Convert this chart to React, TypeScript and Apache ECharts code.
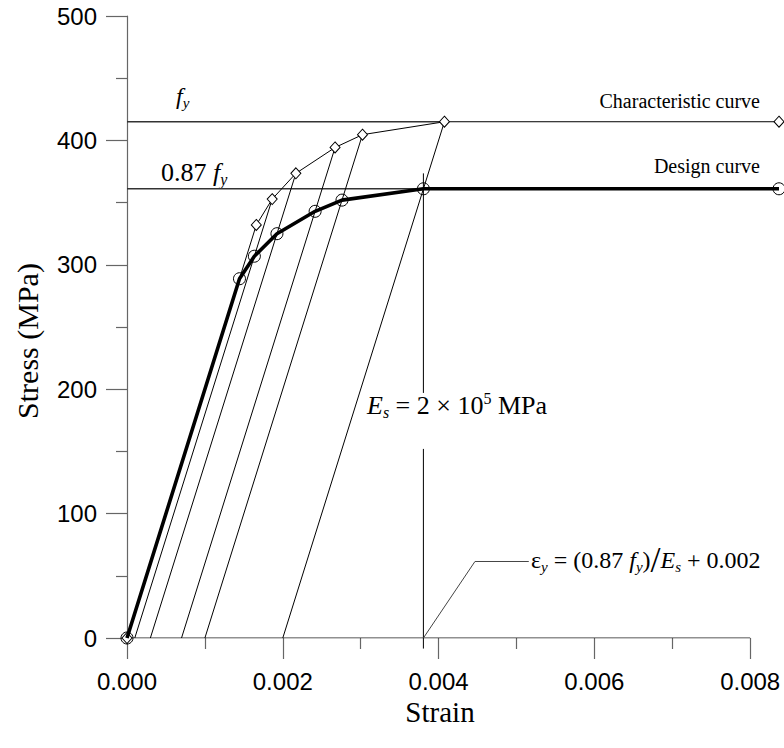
import React, { useEffect, useRef } from "react";
import * as echarts from "echarts";

// Characteristic curve (fy = 415 MPa)
const charStrain = [0, 0.00166, 0.001864, 0.002168, 0.002671, 0.003023, 0.004075, 0.00837];
const charStress = [0, 332, 352.8, 373.5, 394.3, 404.6, 415, 415];
// Design curve (0.87 fy)
const designStrain = [0, 0.001444, 0.001635, 0.001925, 0.002415, 0.00276, 0.003805, 0.00837];
const designStress = [0, 288.8, 306.9, 325.0, 343.0, 352.0, 361.1, 361.1];
// inelastic strain offsets of the Es-slope construction lines
const offsetStrain = [0.0001, 0.0003, 0.0007, 0.001, 0.002];
const fy = 415;
const fyd = 361.1;
const epsY = 0.003805;
// vertical line at eps_y (upper and lower segments around the E_s label)
const vTop = [373.5, 197];
const vBottom = [152, -8.5];
// leader line for the eps_y annotation
const leaderStrain = [0.003805, 0.004467, 0.005158];
const leaderStress = [0, 61.5, 61.5];
// axis ticks
const xMajorTicks = [0, 0.002, 0.004, 0.006, 0.008];
const xMinorTicks = [0.001, 0.003, 0.005, 0.007];
const xAxisEnd = 0.008;
const xGridEnd = 0.00837;

const serif = "'Liberation Serif', 'Times New Roman', serif";
const sans = "'Liberation Sans', Arial, sans-serif";

function richStyles(main: number) {
  return {
    n: { fontFamily: serif, fontSize: main, lineHeight: main + 4, color: "#000" },
    i: { fontFamily: serif, fontSize: main, fontStyle: "italic", lineHeight: main + 4, color: "#000" },
    sub: { fontFamily: serif, fontSize: Math.round(main * 0.62), fontStyle: "italic", lineHeight: 12, verticalAlign: "bottom", color: "#000" },
    sup: { fontFamily: serif, fontSize: Math.round(main * 0.62), lineHeight: 12, verticalAlign: "top", color: "#000" },
    slash: { fontFamily: serif, fontSize: main + 12, lineHeight: main + 4, color: "#000" },
  };
}

export default function App() {
  const ref = useRef<HTMLDivElement>(null);
  useEffect(() => {
    const chart = echarts.init(ref.current!, null, { renderer: "svg" });
    const thin = { color: "#000", width: 1 };
    const offsetSeries = offsetStrain.map((o, k) => ({
      type: "line",
      silent: true,
      symbol: "none",
      lineStyle: thin,
      data: [
        [o, 0],
        [charStrain[k + 2], charStress[k + 2]],
      ],
      z: 2,
    }));
    const tickStyle = { color: "#666", width: 1.2 };
    const option: any = {
      animation: false,
      backgroundColor: "#fff",
      grid: { left: 127, right: 5, top: 16, bottom: 110, containLabel: false },
      xAxis: [
        {
          type: "value",
          position: "bottom",
          min: 0,
          max: xGridEnd,
          axisLine: { show: false },
          axisTick: { show: true, length: 21, lineStyle: tickStyle, customValues: xMajorTicks },
          splitLine: { show: false },
          axisLabel: {
            margin: 31,
            fontFamily: sans,
            fontSize: 24,
            color: "#000",
            customValues: xMajorTicks,
            formatter: (v: number) => v.toFixed(3),
          },
        },
        {
          type: "value",
          position: "bottom",
          min: 0,
          max: xGridEnd,
          axisLine: { show: false, onZero: false },
          axisTick: { show: true, length: 11, lineStyle: tickStyle, customValues: xMinorTicks },
          axisLabel: { show: false },
          splitLine: { show: false },
        },
      ],
      yAxis: {
        type: "value",
        min: 0,
        max: 500,
        interval: 100,
        axisLine: { show: true, onZero: false, lineStyle: { color: "#666", width: 1.2 } },
        axisTick: { show: true, length: 21, lineStyle: tickStyle },
        minorTick: { show: true, splitNumber: 2, length: 11, lineStyle: tickStyle },
        splitLine: { show: false },
        axisLabel: { margin: 30, fontFamily: sans, fontSize: 24, color: "#000" },
      },
      graphic: [
        {
          type: "text",
          x: 27,
          y: 341,
          rotation: Math.PI / 2,
          style: { text: "Stress (MPa)", fontFamily: serif, fontSize: 30, fill: "#000", align: "center", verticalAlign: "middle" },
        },
        {
          type: "text",
          x: 440,
          y: 712,
          style: { text: "Strain", fontFamily: serif, fontSize: 29, fill: "#000", align: "center", verticalAlign: "middle" },
        },
        {
          type: "text",
          x: 176,
          y: 96,
          style: { text: "{i|f}{sub|y}", rich: richStyles(24), align: "left", verticalAlign: "middle" },
        },
        {
          type: "text",
          x: 161,
          y: 172,
          style: { text: "{n|0.87 }{i|f}{sub|y}", rich: richStyles(26), align: "left", verticalAlign: "middle" },
        },
        {
          type: "text",
          x: 760,
          y: 101,
          style: { text: "Characteristic curve", fontFamily: serif, fontSize: 20, fill: "#000", align: "right", verticalAlign: "middle" },
        },
        {
          type: "text",
          x: 760,
          y: 166,
          style: { text: "Design curve", fontFamily: serif, fontSize: 20, fill: "#000", align: "right", verticalAlign: "middle" },
        },
        {
          type: "text",
          x: 367,
          y: 405,
          style: { text: "{i|E}{sub|s}{n| = 2 × 10}{sup|5}{n| MPa}", rich: richStyles(26), align: "left", verticalAlign: "middle" },
        },
        {
          type: "text",
          x: 531,
          y: 560,
          style: {
            text: "{n|ε}{sub|y}{n| = (0.87 }{i|f}{sub|y}{n|)}{slash|/}{i|E}{sub|s}{n| + 0.002}",
            rich: richStyles(24),
            align: "left",
            verticalAlign: "middle",
          },
        },
      ],
      series: [
        {
          type: "line",
          silent: true,
          symbol: "none",
          lineStyle: { color: "#222", width: 1.2 },
          data: [
            [0, 0],
            [xAxisEnd, 0],
          ],
          z: 1,
        },
        {
          type: "line",
          silent: true,
          symbol: "none",
          lineStyle: { color: "#333", width: 1.4 },
          data: [
            [0, fy],
            [charStrain[6], fy],
          ],
          z: 1,
        },
        {
          type: "line",
          silent: true,
          symbol: "none",
          lineStyle: { color: "#333", width: 1.4 },
          data: [
            [0, fyd],
            [designStrain[6], fyd],
          ],
          z: 1,
        },
        ...offsetSeries,
        {
          type: "line",
          silent: true,
          symbol: "none",
          lineStyle: thin,
          data: [
            [epsY, vTop[0]],
            [epsY, vTop[1]],
          ],
        },
        {
          type: "line",
          silent: true,
          clip: false,
          symbol: "none",
          lineStyle: thin,
          data: [
            [epsY, vBottom[0]],
            [epsY, vBottom[1]],
          ],
        },
        {
          type: "line",
          silent: true,
          symbol: "none",
          lineStyle: { color: "#444", width: 1 },
          data: leaderStrain.map((x, k) => [x, leaderStress[k]]),
        },
        {
          type: "line",
          name: "Characteristic curve",
          silent: true,
          clip: false,
          symbol: "diamond",
          symbolSize: [10, 11],
          itemStyle: { color: "#fff", borderColor: "#000", borderWidth: 1 },
          lineStyle: thin,
          data: charStrain.map((x, k) => [x, charStress[k]]),
          z: 4,
        },
        {
          type: "line",
          name: "Design curve",
          silent: true,
          clip: false,
          symbol: "circle",
          symbolSize: 12,
          itemStyle: { color: "rgba(255,255,255,0)", borderColor: "#000", borderWidth: 1 },
          lineStyle: { color: "#000", width: 3.6 },
          data: designStrain.map((x, k) => [x, designStress[k]]),
          z: 5,
        },
      ],
    };
    chart.setOption(option);
    return () => chart.dispose();
  }, []);
  return <div ref={ref} style={{ position: "absolute", left: 0, top: 0, width: 784, height: 748 }} />;
}
